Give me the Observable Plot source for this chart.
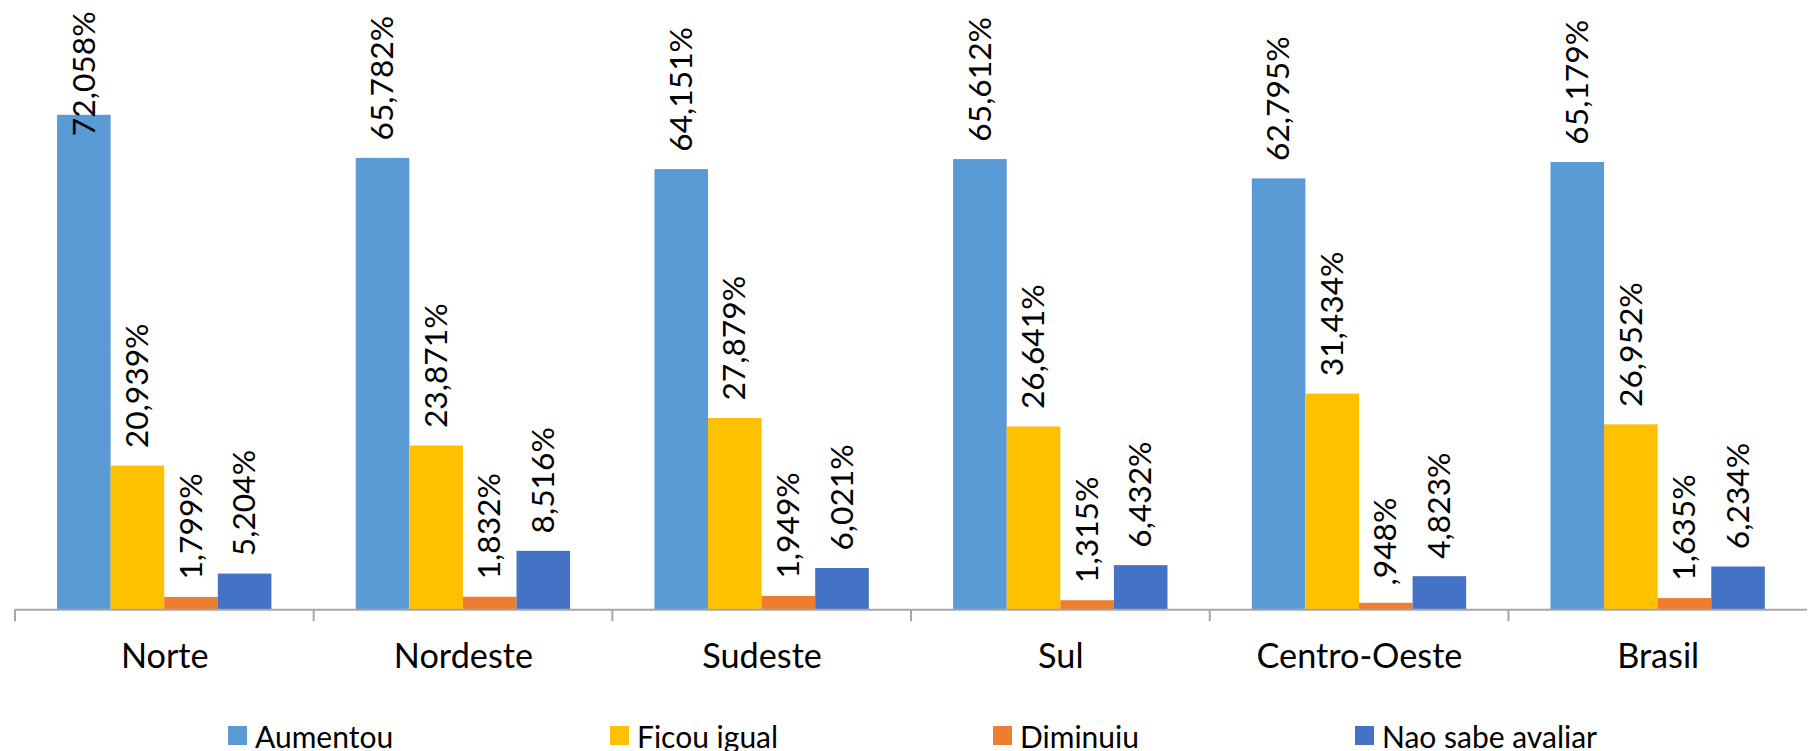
<!DOCTYPE html>
<html>
<head>
<meta charset="utf-8">
<script src="https://cdn.jsdelivr.net/npm/d3@7"></script>
<script src="https://cdn.jsdelivr.net/npm/@observablehq/plot@0.6"></script>
<style>
  html, body { margin: 0; padding: 0; background: #fff; overflow: hidden; }
  #wrap { position: relative; width: 1810px; height: 751px; overflow: hidden; font-family: Lato, sans-serif; }
  #chart { position: absolute; left: 0; top: 0; }
  .leg { position: absolute; top: 718px; height: 35px; display: flex; align-items: center; font-size: 30px; color: #000; white-space: nowrap; }
  .leg .sw { width: 19px; height: 19px; margin-right: 8px; flex: none; }
</style>
</head>
<body>
<div id="wrap">
  <div id="chart"></div>
  <div id="legend"></div>
</div>
<script>
const regions = ["Norte", "Nordeste", "Sudeste", "Sul", "Centro-Oeste", "Brasil"];
const series = ["Aumentou", "Ficou igual", "Diminuiu", "Nao sabe avaliar"];
const aumentou = [72.058, 65.782, 64.151, 65.612, 62.795, 65.179];
const ficouIgual = [20.939, 23.871, 27.879, 26.641, 31.434, 26.952];
const diminuiu = [1.799, 1.832, 1.949, 1.315, 0.948, 1.635];
const naoSabe = [5.204, 8.516, 6.021, 6.432, 4.823, 6.234];
const colors = ["#5B9BD5", "#FFC000", "#ED7D31", "#4472C4"];

const seriesValues = [aumentou, ficouIgual, diminuiu, naoSabe];
const rows = [];
regions.forEach((r, i) => {
  series.forEach((s, j) => rows.push({region: r, series: s, value: seriesValues[j][i]}));
});

function fmt(v) {
  let s = v.toFixed(3).replace(".", ",");
  if (s.startsWith("0,")) s = s.slice(1);
  return s + "%";
}

const yMax = 88.79;
const fits = d => d.value < 70;

const plot = Plot.plot({
  width: 1824,
  height: 700,
  marginLeft: 12.5,
  marginRight: 0,
  marginTop: 0,
  marginBottom: 86,
  style: {fontFamily: "Lato, sans-serif", background: "white", color: "black"},
  fx: {domain: regions, padding: 0, label: null},
  x: {domain: series, paddingInner: 0, paddingOuter: 0.74, axis: null},
  y: {domain: [0, yMax], axis: null},
  color: {domain: series, range: colors},
  marks: [
    Plot.barY(rows, {fx: "region", x: "series", y: "value", fill: "series"}),
    Plot.ruleY([0], {stroke: "#a6a6a6", strokeWidth: 2}),
    Plot.axisFx({anchor: "bottom", tickSize: 12, tickFormat: () => "", dx: -150.9, stroke: "#a6a6a6", strokeWidth: 2, label: null}),
    Plot.axisFx({anchor: "bottom", tickSize: 0, tickPadding: 34.5, fontSize: 34.5, fill: "black", label: null}),
    Plot.text(rows.filter(fits), {fx: "region", x: "series", y: "value", text: d => fmt(d.value), rotate: -90, textAnchor: "start", dy: -18, fontSize: 32, fill: "black"}),
    Plot.text(rows.filter(d => !fits(d)), {fx: "region", x: "series", y: "value", text: d => fmt(d.value), rotate: -90, textAnchor: "start", dy: 21, fontSize: 32, fill: "black"})
  ]
});
document.getElementById("chart").appendChild(plot);

const legendLefts = [228, 610, 993, 1355];
const legend = document.getElementById("legend");
series.forEach((s, i) => {
  const item = document.createElement("div");
  item.className = "leg";
  item.style.left = legendLefts[i] + "px";
  const sw = document.createElement("span");
  sw.className = "sw";
  sw.style.background = colors[i];
  const t = document.createElement("span");
  t.textContent = s;
  item.appendChild(sw);
  item.appendChild(t);
  legend.appendChild(item);
});
</script>
</body>
</html>
